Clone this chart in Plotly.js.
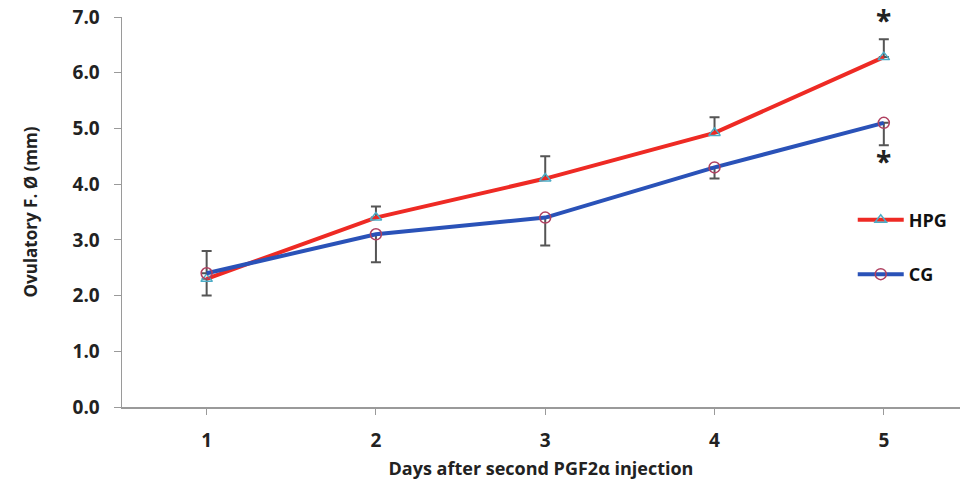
<!DOCTYPE html>
<html>
<head>
<meta charset="utf-8">
<script src="https://cdn.plot.ly/plotly-3.0.1.min.js"></script>
<style>html,body{margin:0;padding:0;background:#fff;}#chart{width:969px;height:495px;}</style>
</head>
<body>
<div id="chart"></div>
<script>
const days = [1, 2, 3, 4, 5];
const hpg = [2.3, 3.4, 4.1, 4.92, 6.28];
const hpgErrPlus = [0, 0.2, 0.4, 0.28, 0.32];
const hpgErrMinus = [0.3, 0, 0, 0, 0];
const cg = [2.4, 3.1, 3.4, 4.3, 5.1];
const cgErrPlus = [0.4, 0, 0, 0, 0];
const cgErrMinus = [0, 0.5, 0.5, 0.2, 0.4];
const starX = [5, 5];
const starY = [6.95, 4.42];

const font = "Open Sans, DejaVu Sans, sans-serif";
const errStyle = {type: 'data', symmetric: false, color: '#555555', thickness: 2, width: 5};

const traces = [
  {
    x: days, y: hpg, name: '<b>HPG</b>', type: 'scatter', mode: 'lines+markers', legendgroup: 'a',
    line: {color: '#ee2a24', width: 4},
    marker: {symbol: 'triangle-up-open', size: 10, color: '#4bacc6', line: {width: 1.5, color: '#4bacc6'}},
    error_y: Object.assign({}, errStyle, {array: hpgErrPlus, arrayminus: hpgErrMinus})
  },
  {
    x: days, y: cg, name: '<b>CG</b>', type: 'scatter', mode: 'lines+markers', legendgroup: 'b',
    line: {color: '#2a52b8', width: 4},
    marker: {symbol: 'circle-open', size: 11, color: '#b04060', line: {width: 1.5, color: '#b04060'}},
    error_y: Object.assign({}, errStyle, {array: cgErrPlus, arrayminus: cgErrMinus})
  }
];

const annotations = starX.map((x, i) => ({
  x: x, y: starY[i], xref: 'x', yref: 'y', text: '<b>*</b>', showarrow: false,
  font: {family: font, size: 28, color: '#222'}, yanchor: 'middle'
}));

const layout = {
  width: 969, height: 495,
  margin: {l: 122, r: 9, t: 17, b: 88},
  paper_bgcolor: '#ffffff', plot_bgcolor: '#ffffff',
  showlegend: true,
  legend: {x: 0.872, y: 0.41, xanchor: 'left', yanchor: 'middle', tracegroupgap: 28, itemwidth: 46,
           font: {family: font, size: 18, color: '#111'}, bgcolor: 'rgba(0,0,0,0)'},
  xaxis: {
    range: [0.5, 5.45], tickvals: days, ticktext: days.map(d => '<b>' + d + '</b>'),
    showgrid: false, zeroline: false, showline: true, linecolor: '#9a9a9a', linewidth: 1.5,
    ticks: 'outside', ticklen: 6, tickcolor: '#9a9a9a', ticklabelstandoff: 10, automargin: false,
    tickfont: {family: font, size: 19, color: '#222'},
    title: {text: '<b>Days after second PGF2α injection</b>', font: {family: font, size: 18, color: '#222'}, standoff: 10}
  },
  yaxis: {
    range: [0, 7], tickvals: [0, 1, 2, 3, 4, 5, 6, 7],
    ticktext: ['0.0', '1.0', '2.0', '3.0', '4.0', '5.0', '6.0', '7.0'].map(t => '<b>' + t + '</b>'),
    showgrid: false, zeroline: false, showline: true, linecolor: '#9a9a9a', linewidth: 1.5,
    ticks: 'outside', ticklen: 7, tickcolor: '#9a9a9a', ticklabelstandoff: 10, automargin: false,
    tickfont: {family: font, size: 19, color: '#222'},
    title: {text: '<b>Ovulatory F. Ø (mm)</b>', font: {family: font, size: 17, color: '#222'}, standoff: 30}
  },
  annotations: annotations
};

Plotly.newPlot('chart', traces, layout, {displayModeBar: false, staticPlot: true});
</script>
</body>
</html>
